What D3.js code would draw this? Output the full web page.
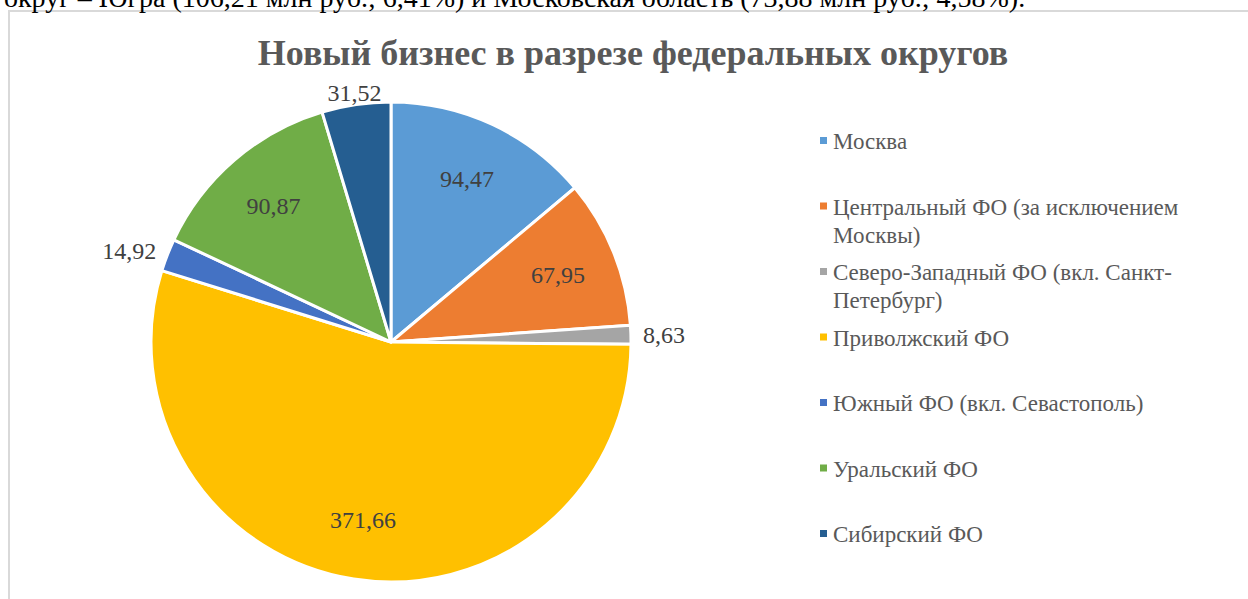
<!DOCTYPE html>
<html>
<head>
<meta charset="utf-8">
<script src="https://cdn.jsdelivr.net/npm/d3@7"></script>
</head>
<body style="margin:0; background:#fff; overflow:hidden">
<svg id="chart" width="1248" height="599" font-family="Liberation Serif, Times New Roman, serif" style="display:block"></svg>
<script>
// Данные диаграммы
const categories = [
    "Москва",
    "Центральный ФО (за исключением Москвы)",
    "Северо-Западный ФО (вкл. Санкт-Петербург)",
    "Приволжский ФО",
    "Южный ФО (вкл. Севастополь)",
    "Уральский ФО",
    "Сибирский ФО"
];
const values = [94.47, 67.95, 8.63, 371.66, 14.92, 90.87, 31.52];
const valueLabels = ["94,47", "67,95", "8,63", "371,66", "14,92", "90,87", "31,52"];
const colors = ["#5B9BD5", "#ED7D31", "#A5A5A5", "#FFC000", "#4472C4", "#70AD47", "#255E91"];

const chartTitle = "Новый бизнес в разрезе федеральных округов";
const pageText = "округ – Югра (106,21 млн руб.; 6,41%) и Московская область (73,88 млн руб.; 4,58%).";

const cx = 391, cy = 342, radius = 240;
const serif = "Liberation Serif";

const svg = d3.select("#chart");

// рамка области диаграммы
svg.append("rect")
    .attr("x", 9)
    .attr("y", 11)
    .attr("width", 1300)
    .attr("height", 700)
    .attr("fill", "#fff")
    .attr("stroke", "#d9d9d9")
    .attr("stroke-width", 2);

svg.append("text")
    .attr("x", 633)
    .attr("y", 65)
    .attr("text-anchor", "middle")
    .attr("font-family", serif)
    .attr("font-size", 36)
    .attr("font-weight", "bold")
    .attr("fill", "#595959")
    .text(chartTitle);

const data = categories.map((c, i) => ({name: c, value: values[i], label: valueLabels[i], color: colors[i]}));

const pie = d3.pie().value(d => d.value).sort(null);
const arcs = pie(data);
const arc = d3.arc().innerRadius(0).outerRadius(radius);

const g = svg.append("g").attr("transform", `translate(${cx},${cy})`);

g.selectAll("path.slice")
    .data(arcs)
    .join("path")
    .attr("class", "slice")
    .attr("d", arc)
    .attr("fill", d => d.data.color)
    .attr("stroke", "#fff")
    .attr("stroke-width", 3)
    .attr("stroke-linejoin", "round");

// подписи значений: внутри крупных секторов, снаружи мелких
const labelArc = d3.arc().innerRadius(radius * 0.75).outerRadius(radius * 0.75);

g.selectAll("text.value")
    .data(arcs)
    .join("text")
    .attr("class", "value")
    .attr("font-family", serif)
    .attr("font-size", 24)
    .attr("fill", "#404040")
    .attr("dy", "0.35em")
    .each(function(d) {
        const share = (d.endAngle - d.startAngle) / (2 * Math.PI);
        const mid = (d.startAngle + d.endAngle) / 2;
        const t = d3.select(this);
        if (share > 0.06) {
            const [x, y] = labelArc.centroid(d);
            t.attr("x", x).attr("y", y).attr("text-anchor", "middle");
        } else {
            const r = radius + 12;
            const sx = Math.sin(mid), sy = -Math.cos(mid);
            t.attr("x", sx * r).attr("y", sy * r)
             .attr("text-anchor", sx > 0.3 ? "start" : (sx < -0.3 ? "end" : "middle"));
        }
    })
    .text(d => d.data.label);

// легенда
const legend = svg.append("g").attr("class", "legend");
const legendX = 833, legendY = 149, legendStep = 65.5, lineH = 28;
// перенос строк легенды как в оригинале
const legendLines = categories.map(c => {
    if (c.startsWith("Центральный")) return ["Центральный ФО (за исключением", "Москвы)"];
    if (c.startsWith("Северо")) return ["Северо-Западный ФО (вкл. Санкт-", "Петербург)"];
    return [c];
});

data.forEach((d, i) => {
    const item = legend.append("g").attr("transform", `translate(0,${legendY + i * legendStep})`);
    item.append("rect")
        .attr("x", legendX - 13)
        .attr("y", -12)
        .attr("width", 7)
        .attr("height", 7)
        .attr("fill", d.color);
    const text = item.append("text")
        .attr("x", legendX)
        .attr("y", 0)
        .attr("font-family", serif)
        .attr("font-size", 23)
        .attr("fill", "#595959");
    legendLines[i].forEach((l, j) => {
        text.append("tspan")
            .attr("x", legendX)
            .attr("dy", j === 0 ? 0 : lineH)
            .text(l);
    });
});

// обрезанная строка текста документа над диаграммой
svg.append("text")
    .attr("x", 4)
    .attr("y", 7)
    .attr("font-family", serif)
    .attr("font-size", 28)
    .attr("fill", "#000")
    .text(pageText);
</script>
</body>
</html>
